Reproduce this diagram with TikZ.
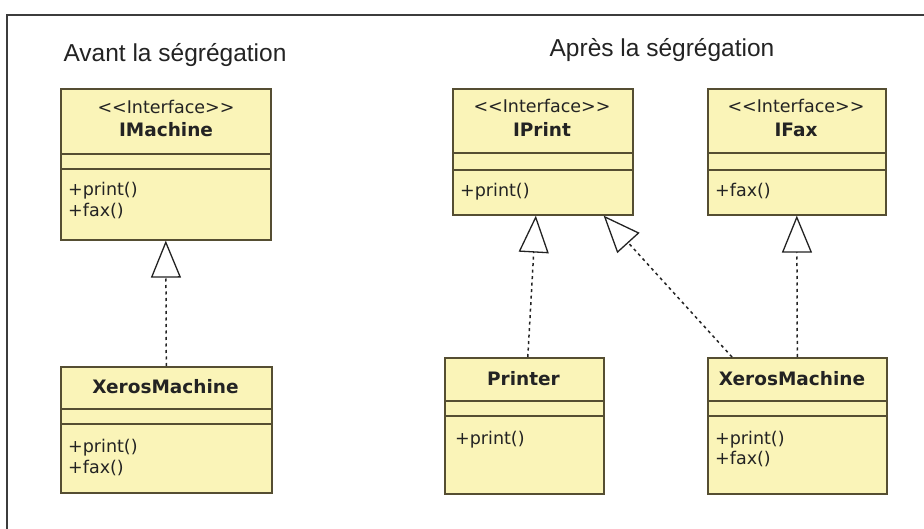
\documentclass[tikz,border=0pt]{standalone}
\usepackage{fontspec}
\setmainfont{Liberation Sans}
\newfontfamily\boxfont{DejaVu Sans}
\usetikzlibrary{arrows.meta}
\definecolor{boxfill}{RGB}{250,244,184}
\definecolor{boxline}{RGB}{85,78,50}
\definecolor{txt}{RGB}{35,35,35}
\definecolor{framec}{RGB}{60,60,60}
\tikzset{
  umlbox/.style={draw=boxline, fill=boxfill, line width=1.6pt, rectangle, inner sep=0pt, anchor=north west},
  divider/.style={draw=boxline, line width=1.4pt},
  stereo/.style={font=\boxfont\fontsize{17.5}{17.5}\selectfont, text=txt, anchor=base, inner sep=0pt},
  cname/.style={font=\boxfont\bfseries\fontsize{18.5}{18.5}\selectfont, text=txt, anchor=base, inner sep=0pt},
  member/.style={font=\boxfont\fontsize{17.5}{17.5}\selectfont, text=txt, anchor=base west, inner sep=0pt},
  heading/.style={font=\fontsize{24.5}{24.5}\selectfont, text=txt, anchor=base, inner sep=0pt},
  realize/.style={draw=txt, line width=1.5pt, dash pattern=on 3pt off 3.5pt,
    -{Triangle[open, length=37pt, width=30pt, line width=1.3pt]}},
}
\begin{document}
\begin{tikzpicture}[x=1pt, y=-1pt]
\useasboundingbox[fill=white] (0,0) rectangle (924,529);
% frame
\draw[framec, line width=1.5pt] (7,529) -- (7,15) -- (924,15);
% headings
\node[heading] (h1) at (175,62) {Avant la ségrégation};
\node[heading] (h2) at (662,57) {Après la ségrégation};

% IMachine
\node[umlbox, minimum width=210pt, minimum height=151pt] (im) at (60,88) {};
\draw[divider] (60,154) -- (270,154);
\draw[divider] (60,169) -- (270,169);
\node[stereo] (im1) at (166,114) {<<Interface>>};
\node[cname] (im2) at (166,137) {IMachine};
\node[member] (im3) at (68,196) {+print()};
\node[member] (im4) at (68,217) {+fax()};

% XerosMachine left
\node[umlbox, minimum width=211pt, minimum height=126pt] (xl) at (60,366) {};
\draw[divider] (60,409) -- (271,409);
\draw[divider] (60,424) -- (271,424);
\node[cname] (xl1) at (165.5,393) {XerosMachine};
\node[member] (xl2) at (68,452) {+print()};
\node[member] (xl3) at (68,473) {+fax()};

% IPrint
\node[umlbox, minimum width=180pt, minimum height=126pt] (ip) at (452,88) {};
\draw[divider] (452,153) -- (632,153);
\draw[divider] (452,170) -- (632,170);
\node[stereo] (ip1) at (542,113) {<<Interface>>};
\node[cname] (ip2) at (542,137) {IPrint};
\node[member] (ip3) at (460,197) {+print()};

% IFax
\node[umlbox, minimum width=178pt, minimum height=126pt] (if) at (707,88) {};
\draw[divider] (707,153) -- (885,153);
\draw[divider] (707,170) -- (885,170);
\node[stereo] (if1) at (796,113) {<<Interface>>};
\node[cname] (if2) at (796,137) {IFax};
\node[member] (if3) at (715,197) {+fax()};

% Printer
\node[umlbox, minimum width=159pt, minimum height=136pt] (pr) at (444,357) {};
\draw[divider] (444,401) -- (603,401);
\draw[divider] (444,416) -- (603,416);
\node[cname] (pr1) at (523.5,385) {Printer};
\node[member] (pr2) at (455,444) {+print()};

% XerosMachine right
\node[umlbox, minimum width=179pt, minimum height=136pt] (xr) at (707,357) {};
\draw[divider] (707,401) -- (886,401);
\draw[divider] (707,416) -- (886,416);
\node[cname] (xr1) at (792,385) {XerosMachine};
\node[member] (xr2) at (715,444) {+print()};
\node[member] (xr3) at (715,464) {+fax()};

% realizations
\draw[realize] (xl.north) -- (im.south);
\draw[realize] ([xshift=3.5pt]pr.north) -- ([xshift=-7pt]ip.south);
\draw[realize] ([xshift=25pt]xr.north west) -- ([xshift=-30pt]ip.south east);
\draw[realize] (xr.north) -- (if.south);
\end{tikzpicture}
\end{document}
